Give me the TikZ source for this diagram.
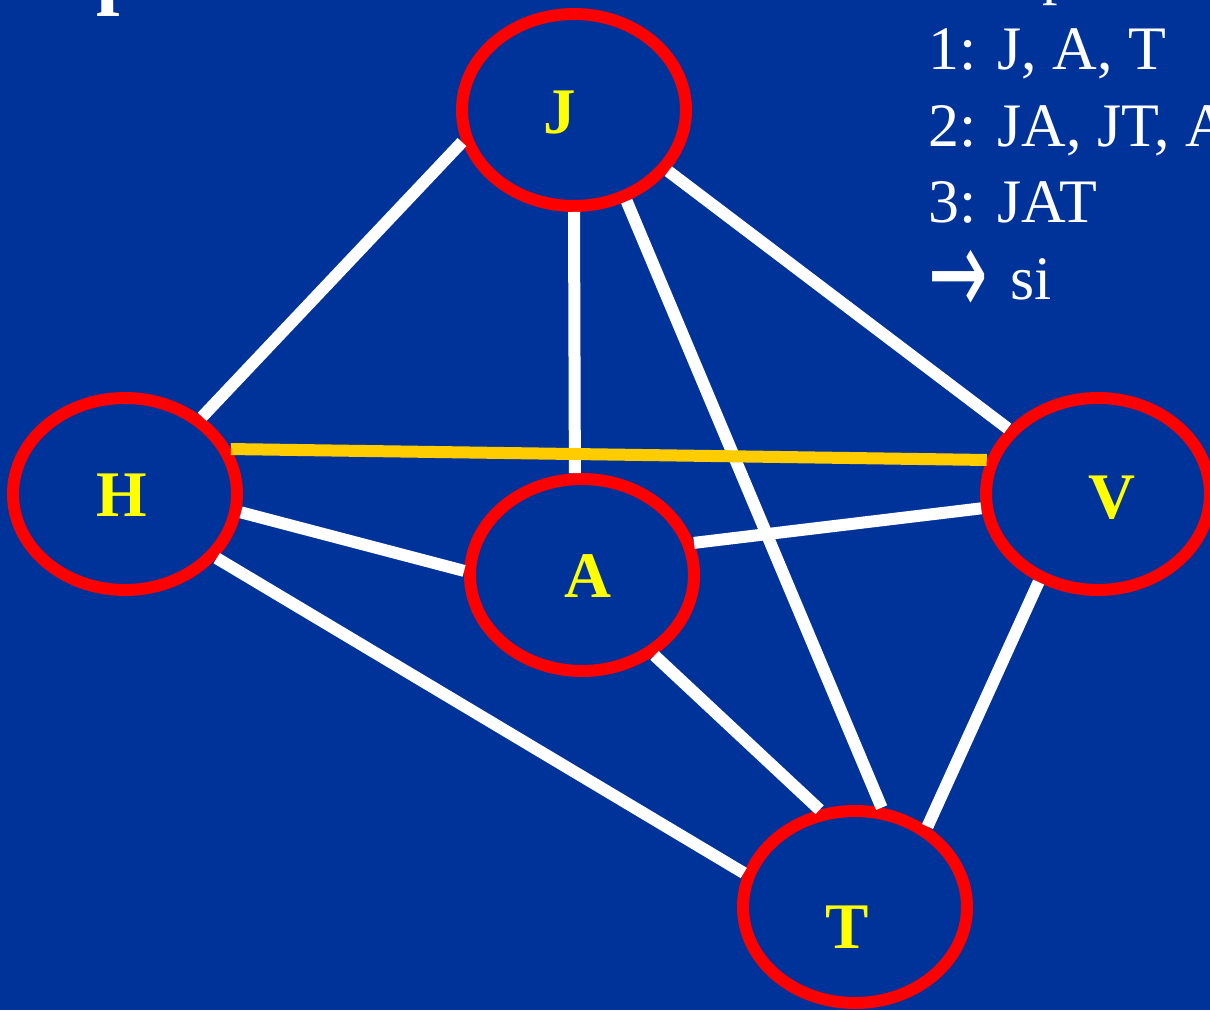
\documentclass[tikz,border=0pt]{standalone}
\usepackage{graphicx}
\usepackage{fontspec}
\setmainfont{Liberation Serif}
\newfontfamily\arrowfont{DejaVu Sans}
\usetikzlibrary{shapes.geometric}

\definecolor{slide}{HTML}{003399}
\definecolor{ring}{HTML}{FF0000}
\definecolor{gold}{HTML}{FFCC00}
\definecolor{tagyellow}{HTML}{FFFF00}

\tikzset{
  vertex/.style={draw=ring, line width=0.12cm, ellipse, minimum width=2.24cm,
    minimum height=1.92cm, inner sep=0pt, outer sep=0.06cm},
  letter/.style={text=tagyellow, font=\fontsize{18.5}{22}\selectfont\bfseries,
    anchor=base, inner sep=0pt},
  link/.style={draw=white, line width=0.12cm},
  listline/.style={text=white, font=\fontsize{17.6}{21}\selectfont,
    anchor=base west, inner sep=0pt},
}

\begin{document}
\begin{tikzpicture}

    % Slide background, it also fixes the size of the page
    \clip (0,0) rectangle (12.1,10.1);
    \fill[slide] (0,0) rectangle (12.1,10.1);

    % What is left of the lines above, cut off by the top edge
    \node[text=white, font=\fontsize{24}{28}\selectfont\bfseries, anchor=base west, inner sep=0pt] (title) at (0.96,10.115) {p};
    \node[listline] (head) at (10.42,10.175) {p};

    % The five vertices
    \node[vertex] (J) at (5.74,9.00) {};
    \node[vertex] (H) at (1.25,5.16) {};
    \node[vertex] (A) at (5.82,4.35) {};
    \node[vertex] (V) at (10.98,5.16) {};
    \node[vertex] (T) at (8.55,1.03) {};

    % Edges of the graph, drawn over the rings
    \draw[link] (J.196) -- (H.45);
    \draw[link] (J.270) -- (A.94);
    \draw[link] (J.300) -- (T.75);
    \draw[link] (J.327) -- (V.144);
    \draw[link] (H.351) -- (A.178);
    \draw[link] (H.325) -- (T.163);
    \draw[link] (A.16) -- (V.187);
    \draw[link] (A.312) -- (T.110);
    \draw[link] (V.236) -- (T.48);

    % The one edge that is not in the clique
    \draw[link, draw=gold] (H.23) -- (V.163);

    % Letters of the vertices
    \node[letter] (tJ) at (5.60,8.76) {J};
    \node[letter] (tH) at (1.22,4.93) {H};
    \node[letter] (tA) at (5.88,4.13) {A};
    \node[letter] (tV) at (11.12,4.91) {V};
    \node[letter] (tT) at (8.47,0.62) {T};

    % Steps on the right
    \node[listline] (l1) at (9.28,9.40) {1: J, A, T};
    \node[listline] (l2) at (9.28,8.63) {2: JA, JT, A};
    \node[listline] (l3) at (9.28,7.87) {3: JAT};
    \node[listline] (l4) at (9.28,7.10) {\raisebox{-4.5pt}{\arrowfont\scalebox{1.15}[2.0]{→}}\hspace{6.4pt}si};

\end{tikzpicture}
\end{document}
